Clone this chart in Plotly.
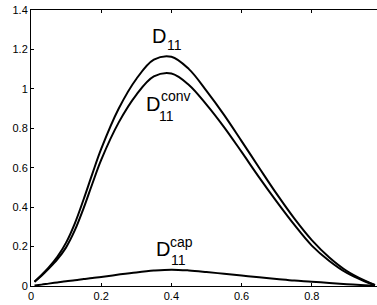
import plotly.graph_objects as go

# sample positions along the abscissa
x_vals = [0.01, 0.03, 0.05, 0.075, 0.10, 0.125, 0.15, 0.175, 0.20, 0.25, 0.30, 0.35,
          0.40, 0.45, 0.50, 0.55, 0.60, 0.65, 0.70, 0.75, 0.80, 0.85, 0.90, 0.95, 0.98]

# D11 (total)
d11 = [0.022, 0.056, 0.093, 0.148, 0.220, 0.318, 0.440, 0.570, 0.695, 0.900, 1.050, 1.148,
       1.163, 1.100, 0.990, 0.868, 0.735, 0.600, 0.467, 0.343, 0.233, 0.145, 0.076, 0.028, 0.005]

# D11 conv
d11_conv = [0.022, 0.052, 0.087, 0.135, 0.196, 0.283, 0.395, 0.520, 0.640, 0.830, 0.970, 1.063,
            1.078, 1.020, 0.920, 0.806, 0.680, 0.551, 0.428, 0.311, 0.205, 0.127, 0.066, 0.024, 0.004]

# D11 cap
d11_cap = [0.003, 0.007, 0.012, 0.018, 0.024, 0.029, 0.035, 0.041, 0.046, 0.058, 0.069, 0.078,
           0.083, 0.079, 0.071, 0.062, 0.053, 0.044, 0.036, 0.028, 0.022, 0.015, 0.009, 0.004, 0.001]

x_ticks = [0, 0.2, 0.4, 0.6, 0.8]
x_tick_labels = ["0", "0.2", "0.4", "0.6", "0.8"]
y_ticks = [0, 0.2, 0.4, 0.6, 0.8, 1.0, 1.2, 1.4]
y_tick_labels = ["0", "0.2", "0.4", "0.6", "0.8", "1", "1.2", "1.4"]

FONT = "Liberation Sans, Arial, Helvetica, sans-serif"

fig = go.Figure()
for series in (d11, d11_conv, d11_cap):
    fig.add_trace(go.Scatter(
        x=x_vals, y=series, mode="lines",
        line=dict(color="black", width=2, shape="spline", smoothing=1.0),
        showlegend=False, hoverinfo="skip"))

def label(xd, yd, text, size):
    fig.add_annotation(x=xd, y=yd, xref="x", yref="y", text=text, showarrow=False,
                       font=dict(family=FONT, size=size, color="black"),
                       xanchor="center", yanchor="middle")

# D11
label(0.365, 1.27, "D", 20)
label(0.408, 1.225, "11", 14)
# D11 conv
label(0.348, 0.925, "D", 20)
label(0.414, 0.962, "conv", 14)
label(0.387, 0.862, "11", 14)
# D11 cap
label(0.377, 0.19, "D", 20)
label(0.430, 0.222, "cap", 14)
label(0.419, 0.134, "11", 14)

fig.update_layout(
    width=377, height=305,
    margin=dict(l=31, r=0, t=10, b=19, autoexpand=False),
    paper_bgcolor="white", plot_bgcolor="white",
    font=dict(family=FONT, size=11, color="black"),
    xaxis=dict(range=[0, 0.9858], tickmode="array", tickvals=x_ticks,
               ticktext=x_tick_labels, ticks="inside", ticklen=3,
               tickcolor="black", showline=True, linecolor="black", linewidth=1,
               mirror="ticks", showgrid=False, zeroline=False, automargin=False,
               tickfont=dict(family=FONT, size=11, color="black")),
    yaxis=dict(range=[0, 1.4], tickmode="array", tickvals=y_ticks,
               ticktext=y_tick_labels, ticks="inside", ticklen=3,
               tickcolor="black", showline=True, linecolor="black", linewidth=1,
               showgrid=False, zeroline=False, automargin=False,
               tickfont=dict(family=FONT, size=11, color="black")),
)

fig.write_html("out.html", config={"displayModeBar": False},
               post_script="document.body.style.margin='0';document.body.style.overflow='hidden';")
